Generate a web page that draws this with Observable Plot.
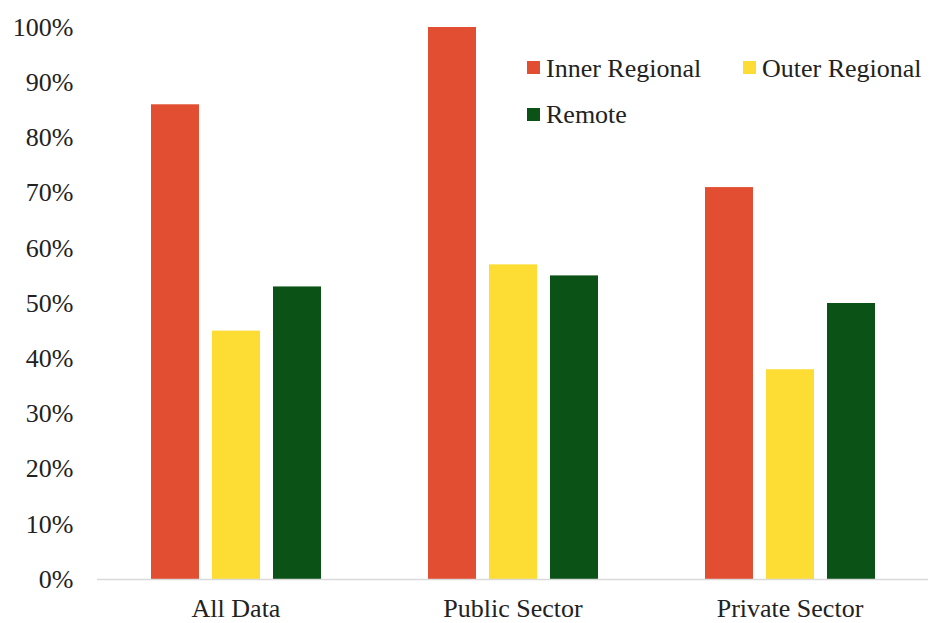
<!DOCTYPE html>
<html>
<head>
<meta charset="utf-8">
<script src="https://cdn.jsdelivr.net/npm/d3@7"></script>
<script src="https://cdn.jsdelivr.net/npm/@observablehq/plot@0.6"></script>
<style>
  html, body { margin: 0; padding: 0; background: #fff; }
  #wrap { position: relative; width: 929px; height: 623px; }
  #legend { position: absolute; left: 0; top: 0; pointer-events: none; }
</style>
</head>
<body>
<div id="wrap"></div>
<script>
const categories = ["All Data", "Public Sector", "Private Sector"];
const series = ["Inner Regional", "Outer Regional", "Remote"];
const innerRegional = [86, 100, 71];
const outerRegional = [45, 57, 38];
const remote = [53, 55, 50];
const yTicks = [0, 10, 20, 30, 40, 50, 60, 70, 80, 90, 100];
const colors = ["#E24E31", "#FDDD33", "#0A5215"];

const seriesValues = [innerRegional, outerRegional, remote];
const table = [];
categories.forEach((c, i) => {
  series.forEach((s, j) => {
    table.push({category: c, series: s, value: seriesValues[j][i]});
  });
});

const font = "Liberation Serif, Tinos, Times New Roman, Nimbus Roman, DejaVu Serif, serif";

const chart = Plot.plot({
  width: 929,
  height: 623,
  marginLeft: 97,
  marginRight: 1,
  marginTop: 27,
  marginBottom: 44,
  style: {fontFamily: font, fontSize: "26px", color: "#222", background: "white"},
  fx: {domain: categories, padding: 0, label: null},
  x: {domain: series, paddingInner: 0.22, paddingOuter: 0.86, axis: null},
  y: {domain: [0, 100]},
  color: {domain: series, range: colors},
  marks: [
    Plot.barY(table, {fx: "category", x: "series", y: "value", fill: "series"}),
    Plot.ruleY([0], {stroke: "#d9d9d9", strokeWidth: 1.5}),
    Plot.axisY({ticks: yTicks, tickFormat: d => d + "%", tickSize: 0, tickPadding: 24, label: null, fontSize: 26, fontFamily: font}),
    Plot.axisFx({anchor: "bottom", tickSize: 0, tickPadding: 19, label: null, fontSize: 26, fontFamily: font})
  ]
});
document.getElementById("wrap").appendChild(chart);

// Legend overlay (inside the plot area, top right)
const legendItems = [
  {label: series[0], color: colors[0], sx: 527, sy: 61, tx: 546, ty: 77},
  {label: series[1], color: colors[1], sx: 743, sy: 61, tx: 762, ty: 77},
  {label: series[2], color: colors[2], sx: 527, sy: 108, tx: 546, ty: 123}
];
const svg = d3.select("#wrap").append("svg")
  .attr("id", "legend")
  .attr("width", 929).attr("height", 623);
const g = svg.selectAll("g").data(legendItems).join("g");
g.append("rect")
  .attr("x", d => d.sx).attr("y", d => d.sy)
  .attr("width", 13).attr("height", 13)
  .attr("fill", d => d.color);
g.append("text")
  .attr("x", d => d.tx).attr("y", d => d.ty)
  .style("font-family", font).style("font-size", "26px")
  .attr("fill", "#222")
  .text(d => d.label);
</script>
</body>
</html>
